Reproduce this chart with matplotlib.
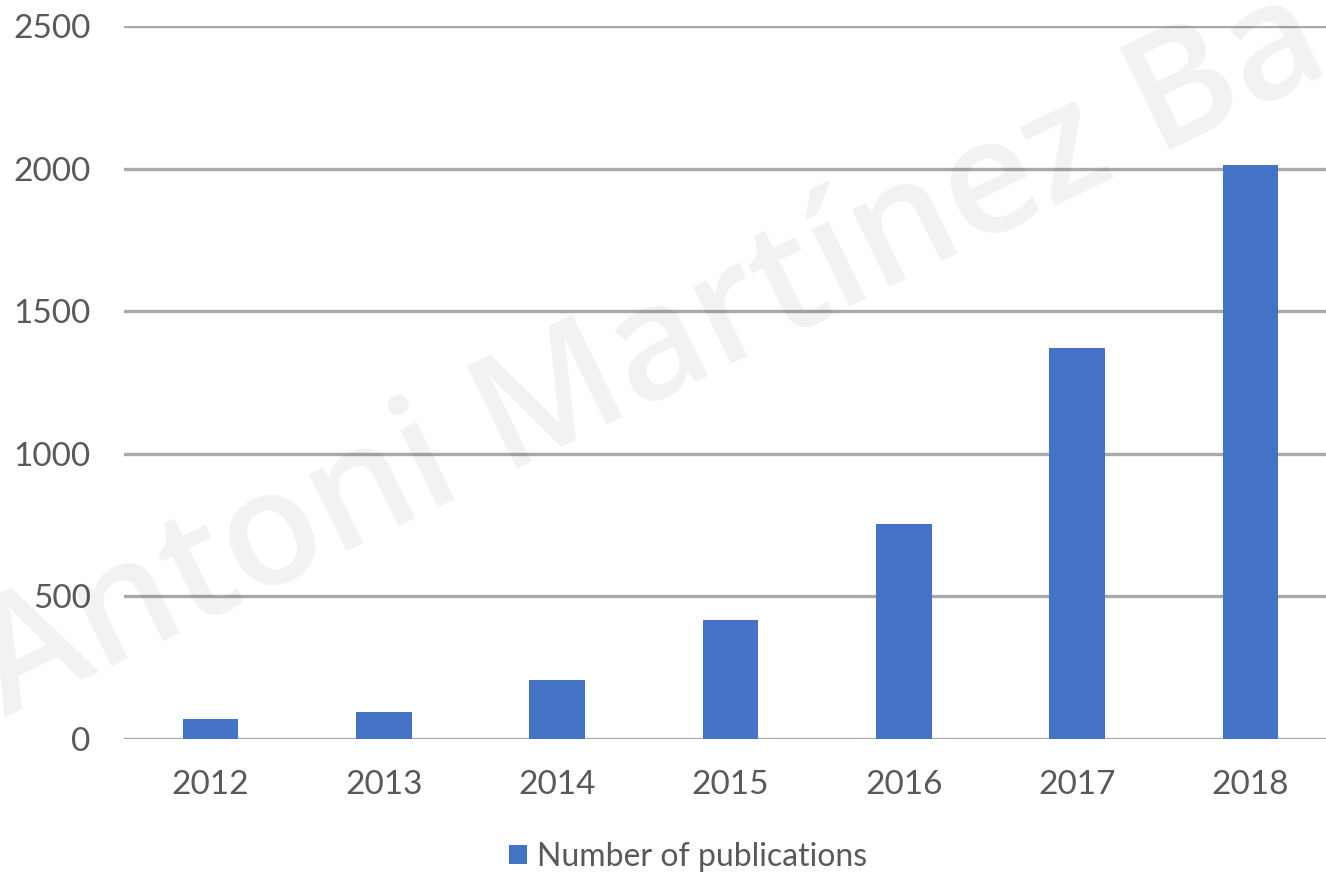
import numpy as np
import matplotlib.pyplot as plt

# Data
years = ['2012', '2013', '2014', '2015', '2016', '2017', '2018']
publications = [70, 95, 207, 417, 754, 1370, 2014]
y_ticks = [0, 500, 1000, 1500, 2000, 2500]

bar_color = '#4472C4'
grid_color = '#a9a9a9'
text_color = '#595959'

plt.rcParams['font.family'] = ['Lato', 'DejaVu Sans']

fig = plt.figure(figsize=(13.26, 8.76), dpi=100)
# axes runs a little past the right edge, as in the reference
ax = fig.add_axes([124 / 1326, 137 / 876, 1213 / 1326, 713 / 876])

x = np.arange(len(years))
ax.bar(x, publications, width=0.32, color=bar_color, zorder=3,
       label='Number of publications')

ax.set_xlim(-0.5, len(years) - 0.5)
ax.set_ylim(0, 2500)
ax.set_yticks(y_ticks)
ax.set_yticklabels([str(v) for v in y_ticks])
ax.set_xticks(x)
ax.set_xticklabels(years)

ax.yaxis.grid(True, color=grid_color, linewidth=2.4, zorder=0)
ax.set_axisbelow(True)
for side in ['top', 'right', 'left', 'bottom']:
    ax.spines[side].set_visible(False)
ax.tick_params(axis='both', length=0, labelsize=24, labelcolor=text_color)
ax.tick_params(axis='y', pad=24)
ax.tick_params(axis='x', pad=22)

fig.legend(loc='center', bbox_to_anchor=(688 / 1326, 1 - 857 / 876),
           frameon=False, fontsize=23, labelcolor=text_color,
           handlelength=0.55, handleheight=0.55, handletextpad=0.3)

# faint diagonal watermark
fig.text(0.004, 1 - 718 / 876, 'Antoni Martínez Ba', fontsize=115,
         family=['Open Sans', 'DejaVu Sans'], fontweight='semibold',
         color='black', alpha=0.055, rotation=26, rotation_mode='anchor',
         ha='left', va='baseline', zorder=10)

fig.savefig('out.png', dpi=100)
